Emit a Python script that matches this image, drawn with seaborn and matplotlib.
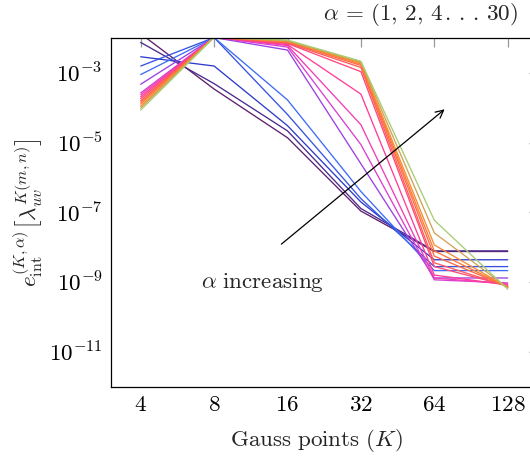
import numpy as np
import pandas as pd
import matplotlib
matplotlib.use("Agg")
import matplotlib.pyplot as plt
import seaborn as sns
from matplotlib.ticker import FixedLocator, FixedFormatter, NullLocator

# ---------------- data ----------------
gauss_points = [4, 8, 16, 32, 64, 128]
alphas = [1, 2, 4, 6, 8, 10, 12, 14, 16, 18, 20, 22, 24, 26, 28, 30]

err_a1 = [1.35e-2, 3.5e-4, 1.4e-5, 1.1e-7, 7.6e-9, 7.6e-9]
err_a2 = [7.6e-3, 5.0e-4, 2.2e-5, 1.3e-7, 7.9e-9, 7.9e-9]
err_a4 = [2.95e-3, 1.6e-3, 3.1e-5, 2.0e-7, 4.4e-9, 4.4e-9]
err_a6 = [1.6e-3, 1.05e-2, 6.5e-5, 2.5e-7, 2.8e-9, 2.8e-9]
err_a8 = [9.1e-4, 1.05e-2, 1.7e-4, 4.0e-7, 2.15e-9, 2.15e-9]
err_a10 = [4.8e-4, 1.05e-2, 4.6e-3, 2.5e-6, 1.32e-9, 1.32e-9]
err_a12 = [2.7e-4, 1.07e-2, 5.6e-3, 8.9e-6, 1.17e-9, 9.5e-10]
err_a14 = [2.4e-4, 1.07e-2, 6.2e-3, 3.3e-5, 1.32e-9, 8.9e-10]
err_a16 = [2.1e-4, 1.07e-2, 6.6e-3, 2.5e-4, 1.6e-9, 8.3e-10]
err_a18 = [1.85e-4, 1.07e-2, 7.1e-3, 1.1e-3, 2.8e-9, 7.9e-10]
err_a20 = [1.62e-4, 1.07e-2, 7.4e-3, 1.45e-3, 3.6e-9, 7.6e-10]
err_a22 = [1.45e-4, 1.07e-2, 7.8e-3, 1.66e-3, 5.6e-9, 7.4e-10]
err_a24 = [1.29e-4, 1.07e-2, 8.1e-3, 1.82e-3, 7.9e-9, 7.2e-10]
err_a26 = [1.12e-4, 1.07e-2, 8.3e-3, 1.95e-3, 1.17e-8, 7.1e-10]
err_a28 = [1.0e-4, 1.07e-2, 8.5e-3, 2.1e-3, 2.6e-8, 6.9e-10]
err_a30 = [8.7e-5, 1.07e-2, 8.9e-3, 2.2e-3, 6.0e-8, 6.3e-10]

errors = [err_a1, err_a2, err_a4, err_a6, err_a8, err_a10, err_a12, err_a14,
          err_a16, err_a18, err_a20, err_a22, err_a24, err_a26, err_a28, err_a30]

x_ticks = [4, 8, 16, 32, 64, 128]
x_tick_labels = ["4", "8", "16", "32", "64", "128"]
y_ticks = [1e-11, 1e-9, 1e-7, 1e-5, 1e-3]
y_tick_labels = ["-11", "-9", "-7", "-5", "-3"]

title_text = r"$\alpha\, =\, (1,\,2,\,4\,.\,.\,.\,30)$"
xlabel_text = r"$\mathrm{Gauss\ points}\ (K)$"
ylabel_text = r"$e_{\mathrm{int}}^{(K,\alpha)}\left[\lambda_{uv}^{K(m,n)}\right]$"
annot_text = r"$\alpha\ \mathrm{increasing}$"

# annotation arrow (data coordinates)
arrow_start = (14.8, 1.1e-8)
arrow_end = (72.0, 1.03e-4)
annot_pos = (12.6, 1.0e-9)

# ---------------- style ----------------
palette = ["#5e1f6b", "#4b2a8e", "#2e3cc9", "#3553e2", "#3e6cf6", "#9b40e2",
           "#d83fd2", "#f23db6", "#ff3c98", "#ff4a7a", "#ff5a5c", "#ff6a42",
           "#ff7a32", "#f58c34", "#d2a255", "#a6cd72"]

FS = 16.6

sns.set_style("white")
plt.rcParams["mathtext.fontset"] = "cm"
plt.rcParams["font.family"] = ["DejaVu Serif"]

df = pd.DataFrame({
    "K": np.tile(gauss_points, len(alphas)),
    "err": np.concatenate(errors),
    "alpha": np.repeat(alphas, len(gauss_points)),
})

W, H = 530, 461
fig = plt.figure(figsize=(W / 100, H / 100), dpi=100)
ax_left, ax_right, ax_top, ax_bottom = 110.7, 537.7, 38.3, 386.7
ax = fig.add_axes([ax_left / W, 1 - ax_bottom / H,
                   (ax_right - ax_left) / W, (ax_bottom - ax_top) / H])

sns.lineplot(data=df, x="K", y="err", hue="alpha", palette=palette,
             linewidth=0.95, legend=False, ax=ax, estimator=None, sort=False)

ax.set_xscale("log", base=2)
ax.set_yscale("log")
ax.set_xlim(3.013, 169.9)
ax.set_ylim(1e-12, 1e-2)

ax.xaxis.set_major_locator(FixedLocator(x_ticks))
ax.xaxis.set_major_formatter(FixedFormatter([f"${t}$" for t in x_tick_labels]))
ax.xaxis.set_minor_locator(NullLocator())
ax.yaxis.set_major_locator(FixedLocator(y_ticks))
ax.yaxis.set_major_formatter(FixedFormatter([r"$10^{%s}$" % t for t in y_tick_labels]))
ax.yaxis.set_minor_locator(NullLocator())

ax.tick_params(axis="both", which="major", direction="in", length=6.5,
               width=0.9, color="#9a9a9a", labelsize=FS,
               top=True, right=True, labelcolor="black")
ax.tick_params(axis="x", pad=5)
ax.tick_params(axis="y", pad=6)
for s in ax.spines.values():
    s.set_color("black")
    s.set_linewidth(0.9)
ax.set_xlabel("")
ax.set_ylabel("")

ax.annotate("", xy=arrow_end, xytext=arrow_start,
            arrowprops=dict(arrowstyle="->", color="black", lw=0.9,
                            mutation_scale=14))
ax.text(annot_pos[0], annot_pos[1], annot_text, fontsize=FS,
        ha="center", va="center")

fig.text(518 / W, 1 - 14 / H, title_text, fontsize=FS, ha="right", va="center")
fig.text(316 / W, 1 - 440 / H, xlabel_text, fontsize=FS, ha="center", va="center")
fig.text(28 / W, 1 - 213 / H, ylabel_text, fontsize=FS, ha="center",
         va="center", rotation=90)

fig.savefig("out.png", dpi=100)
